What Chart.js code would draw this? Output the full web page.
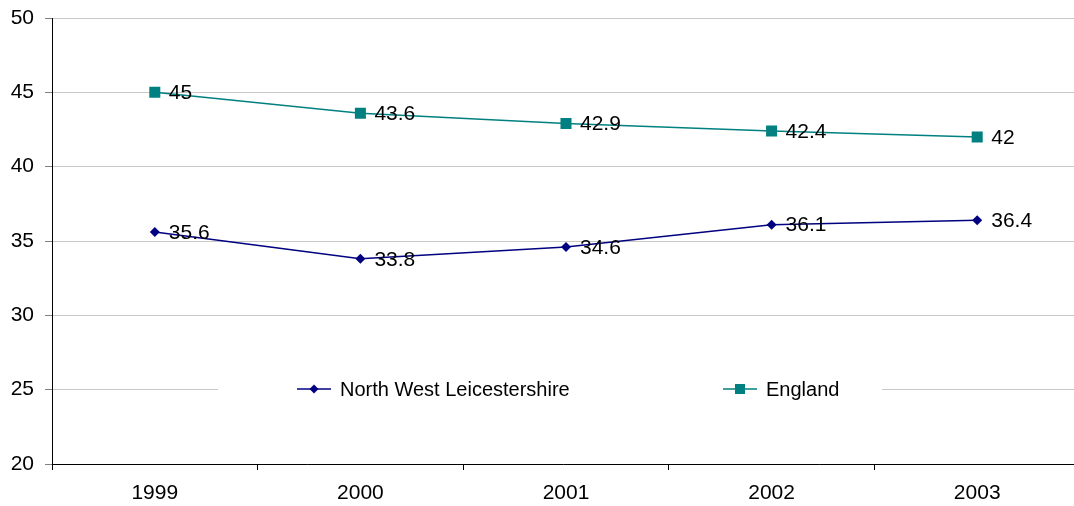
<!DOCTYPE html>
<html>
<head>
<meta charset="utf-8">
<script src="https://cdn.jsdelivr.net/npm/chart.js@4/dist/chart.umd.min.js"></script>
<style>
html,body{margin:0;padding:0;background:#fff;overflow:hidden;width:1074px;height:506px;}
#c{display:block;}
</style>
</head>
<body>
<canvas id="c" width="1074" height="506"></canvas>
<script>
const categories = ["1999", "2000", "2001", "2002", "2003"];
const nwlValues = [35.6, 33.8, 34.6, 36.1, 36.4];
const englandValues = [45, 43.6, 42.9, 42.4, 42];
const seriesNames = ["North West Leicestershire", "England"];
const yTicks = [20, 25, 30, 35, 40, 45, 50];

const FONT = "'Liberation Sans', Arial, sans-serif";

// Plot area box (the reference's plot runs slightly past the right edge)
const AREA = {left: 52, top: 18, right: 1080, bottom: 464};

const areaPlugin = {
  id: 'fixArea',
  afterLayout(chart) {
    const ca = chart.chartArea;
    ca.left = AREA.left; ca.top = AREA.top; ca.right = AREA.right; ca.bottom = AREA.bottom;
    ca.width = AREA.right - AREA.left; ca.height = AREA.bottom - AREA.top;
    const x = chart.scales.x, y = chart.scales.y;
    x.left = AREA.left; x.right = AREA.right; x.width = AREA.right - AREA.left;
    x.top = AREA.bottom; x.bottom = 506; x.height = 506 - AREA.bottom;
    y.top = AREA.top; y.bottom = AREA.bottom; y.height = AREA.bottom - AREA.top;
    y.left = 0; y.right = AREA.left; y.width = AREA.left;
    x.configure(); y.configure();
  }
};

const labelPlugin = {
  id: 'pointLabels',
  afterDatasetsDraw(chart) {
    const ctx = chart.ctx;
    ctx.save();
    ctx.font = "21px " + FONT;
    ctx.fillStyle = "#000";
    ctx.textAlign = "left";
    ctx.textBaseline = "middle";
    chart.data.datasets.forEach((ds, i) => {
      const meta = chart.getDatasetMeta(i);
      meta.data.forEach((pt, j) => {
        ctx.fillText(String(ds.data[j]), pt.x + 14, pt.y + 1);
      });
    });
    ctx.restore();
  }
};

const legendPlugin = {
  id: 'innerLegend',
  afterDatasetsDraw(chart) {
    const ctx = chart.ctx;
    const y = Math.round(chart.scales.y.getPixelForValue(25)) - 1;
    ctx.save();
    ctx.fillStyle = "#fff";
    ctx.fillRect(218, y - 14, 664, 28);
    const items = [
      {x: 297, ds: chart.data.datasets[0]},
      {x: 723, ds: chart.data.datasets[1]}
    ];
    items.forEach(it => {
      const ds = it.ds;
      ctx.strokeStyle = ds.borderColor;
      ctx.lineWidth = 1.5;
      ctx.beginPath();
      ctx.moveTo(it.x, y);
      ctx.lineTo(it.x + 34, y);
      ctx.stroke();
      ctx.fillStyle = ds.backgroundColor;
      const cx = it.x + 17;
      if (ds.pointStyle === 'rectRot') {
        ctx.beginPath();
        ctx.moveTo(cx, y - 4.5); ctx.lineTo(cx + 4.5, y); ctx.lineTo(cx, y + 4.5); ctx.lineTo(cx - 4.5, y);
        ctx.closePath(); ctx.fill();
      } else {
        ctx.fillRect(cx - 5, y - 5, 10, 10);
      }
      ctx.fillStyle = "#000";
      ctx.font = "20px " + FONT;
      ctx.textAlign = "left";
      ctx.textBaseline = "middle";
      ctx.fillText(ds.label, it.x + 43, y + 1);
    });
    ctx.restore();
  }
};

new Chart(document.getElementById('c'), {
  type: 'line',
  data: {
    labels: categories,
    datasets: [
      {
        label: seriesNames[0],
        data: nwlValues,
        borderColor: '#000080',
        backgroundColor: '#000080',
        borderWidth: 1.5,
        pointStyle: 'rectRot',
        pointRadius: 5,
        pointBorderWidth: 0,
        tension: 0
      },
      {
        label: seriesNames[1],
        data: englandValues,
        borderColor: '#008080',
        backgroundColor: '#008080',
        borderWidth: 1.5,
        pointStyle: 'rect',
        pointRadius: 7.8,
        pointBorderWidth: 0,
        tension: 0
      }
    ]
  },
  options: {
    responsive: false,
    animation: false,
    layout: {padding: {top: 18, right: 0, left: 0, bottom: 0}},
    plugins: {legend: {display: false}, tooltip: {enabled: false}},
    scales: {
      x: {
        offset: true,
        grid: {offset: true, drawOnChartArea: false, color: '#000', tickLength: 6, tickWidth: 1},
        border: {color: '#000', width: 1},
        ticks: {font: {family: FONT, size: 21}, color: '#000', padding: 11, maxRotation: 0},
        afterFit(s) { s.height = 42; }
      },
      y: {
        min: 20, max: 50,
        afterBuildTicks(s) { s.ticks = yTicks.map(v => ({value: v})); },
        grid: {color: '#c8c8c8', tickLength: 7, tickColor: '#808080', lineWidth: 1},
        border: {color: '#000', width: 1},
        ticks: {font: {family: FONT, size: 21}, color: '#000', padding: 11},
        afterFit(s) { s.width = 52; }
      }
    }
  },
  plugins: [areaPlugin, labelPlugin, legendPlugin]
});
</script>
</body>
</html>
